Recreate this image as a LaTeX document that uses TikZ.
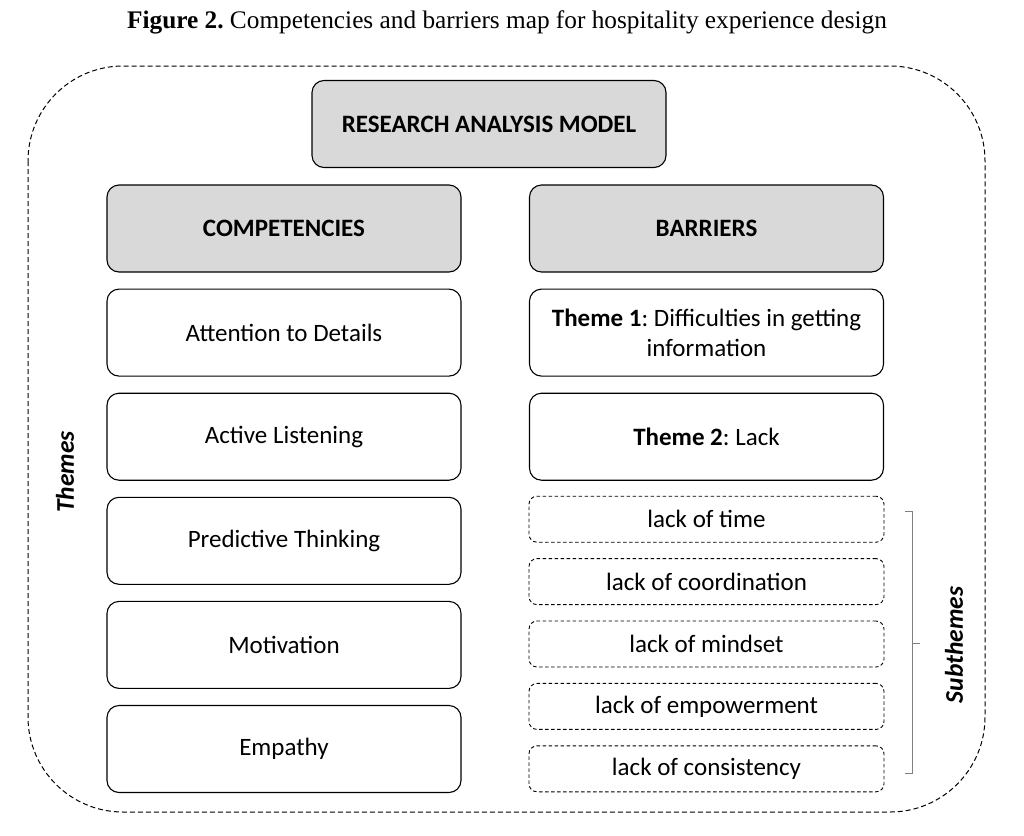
\documentclass[tikz,border=0pt]{standalone}
\usepackage{fontspec}
\setmainfont{Carlito}
\newfontfamily\titlefont{Liberation Serif}
\usetikzlibrary{positioning}
\frenchspacing
\definecolor{headgray}{RGB}{217,217,217}
\definecolor{bracegray}{RGB}{128,128,128}
\tikzset{
  headbox/.style={draw, fill=headgray, rounded corners=12pt, line width=1.1pt, minimum width=354pt, minimum height=87pt, font=\bfseries\fontsize{25}{30}\selectfont, align=center},
  themebox/.style={draw, rounded corners=12pt, line width=1.1pt, minimum width=354pt, minimum height=87pt, text width=335pt, font=\fontsize{25}{30}\selectfont, align=flush center},
  subbox/.style={draw, dash pattern=on 3.5pt off 2.5pt, rounded corners=8pt, line width=0.9pt, minimum width=355pt, minimum height=46pt, font=\fontsize{25}{30}\selectfont},
  sidelabel/.style={rotate=90, font=\bfseries\itshape\fontsize{25.5}{30}\selectfont}
}
\begin{document}
\begin{tikzpicture}[x=1pt, y=-1pt]
\useasboundingbox (0,0) rectangle (1024,835);

% title
\node (title) at (507,22) {\titlefont\fontsize{25.3}{30}\selectfont\textbf{Figure 2.} Competencies and barriers map for hospitality experience design};

% outer frame
\draw[dash pattern=on 5pt off 3pt, line width=1pt, rounded corners=95pt] (28,66) rectangle (985,812);

% headers
\node[headbox] (model) at (489,124) {RESEARCH ANALYSIS MODEL};
\node[headbox] (comp) at (284,228.5) {COMPETENCIES};
\node[headbox] (barr) at (706.5,228.5) {BARRIERS};

% competencies
\node[themebox, below=16pt of comp] (details) {Attention to Details};
\node[themebox, below=16pt of details] (listening) {Active Listening};
\node[themebox, below=16pt of listening] (thinking) {Predictive Thinking};
\node[themebox, below=16pt of thinking] (motivation) {Motivation};
\node[themebox, below=16pt of motivation] (empathy) {Empathy};

% barriers
\node[themebox, below=16pt of barr] (theme1) {\textbf{Theme 1}: Difficulties in getting\\information};
\node[themebox, below=16pt of theme1] (theme2) {\textbf{Theme 2}: Lack};
\node[subbox, below=15pt of theme2] (time) {lack of time};
\node[subbox, below=15.5pt of time] (coord) {lack of coordination};
\node[subbox, below=15.5pt of coord] (mindset) {lack of mindset};
\node[subbox, below=15.5pt of mindset] (empower) {lack of empowerment};
\node[subbox, below=15.5pt of empower] (consist) {lack of consistency};

% side labels
\node[sidelabel] (themes) at (65,472) {Themes};
\node[sidelabel] (subthemes) at (954,645) {Subthemes};

% bracket
\coordinate (btop) at (912,511);
\coordinate (bbot) at (912,773);
\coordinate (bmid) at (912,643);
\draw[bracegray, line width=1pt] ([xshift=-7pt]btop) -- (btop) -- (bbot) -- ([xshift=-7pt]bbot);
\draw[bracegray, line width=1pt] (bmid) -- ([xshift=8pt]bmid);

\end{tikzpicture}
\end{document}
